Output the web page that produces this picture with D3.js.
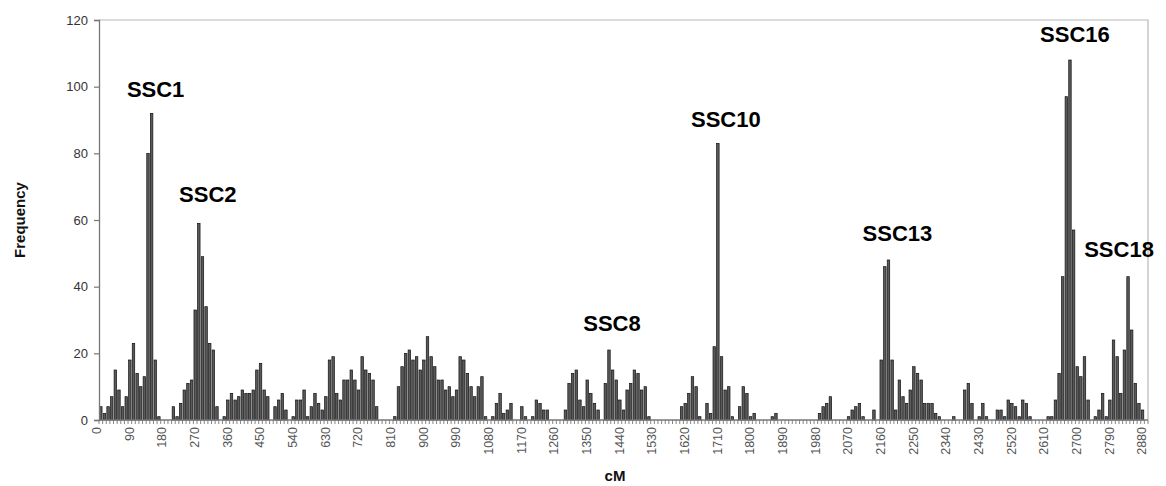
<!DOCTYPE html>
<html>
<head>
<meta charset="utf-8">
<script src="https://cdn.jsdelivr.net/npm/d3@7"></script>
<style>
  html, body { margin: 0; padding: 0; background: #fff; }
  svg { display: block; font-family: "Liberation Sans", Arial, sans-serif; }
</style>
</head>
<body>
<svg id="chart" width="1166" height="486"></svg>
<script>
// ---- data ----
const categories = d3.range(0, 2890, 10); // cM bins 0..2880
const tickLabels = [0,90,180,270,360,450,540,630,720,810,900,990,1080,1170,1260,1350,1440,1530,1620,1710,1800,1890,1980,2070,2160,2250,2340,2430,2520,2610,2700,2790,2880];
const yTicks = [0,20,40,60,80,100,120];
const frequency = [
  4,2,4,7,15,9,4,7,18,23, 14,10,13,80,92,18,1,0,0,0,
  4,1,5,9,11,12,33,59,49,34, 23,21,4,0,1,6,8,6,7,9,
  8,8,9,15,17,9,7,0,4,6, 8,3,0,1,6,6,9,1,4,8,
  5,3,7,18,19,8,6,12,12,15, 12,9,19,15,14,12,4,0,0,0,
  0,1,10,16,20,21,18,19,15,18, 25,19,16,12,12,9,10,7,9,19,
  18,14,10,7,10,13,1,0,1,5, 8,2,3,5,0,0,4,1,0,1,
  6,5,3,3,0,0,0,0,3,11, 14,15,6,4,12,8,5,3,0,11,
  21,15,12,6,3,9,11,15,14,9, 10,1,0,0,0,0,0,0,0,0,
  4,5,8,13,10,1,0,5,2,22, 83,19,9,10,1,0,4,10,8,1,
  2,0,0,0,0,1,2,0,0,0, 0,0,0,0,0,0,0,0,2,4,
  5,7,0,0,0,0,1,3,4,5, 1,0,0,3,0,18,46,48,18,3,
  12,7,5,9,16,14,12,5,5,5, 2,1,0,0,0,1,0,0,9,11,
  5,0,1,5,1,0,0,3,3,1, 6,5,4,1,6,5,1,0,0,0,
  0,1,1,6,14,43,97,108,57,16, 13,19,6,0,1,3,8,1,6,24,
  19,8,21,43,27,11,5,3,0
];
const annotations = [
  { label: "SSC1",  cM: 140 },
  { label: "SSC2",  cM: 270 },
  { label: "SSC8",  cM: 1400 },
  { label: "SSC10", cM: 1700 },
  { label: "SSC13", cM: 2170 },
  { label: "SSC16", cM: 2670 },
  { label: "SSC18", cM: 2830 }
];

// ---- layout ----
const M = { left: 99, right: 1148, top: 20, bottom: 420 };
const svg = d3.select("#chart");
svg.append("rect").attr("width", 1166).attr("height", 486).attr("fill", "#fff");

const x = d3.scaleBand().domain(categories).range([M.left, M.right]).paddingInner(0.32).paddingOuter(0.16);
const y = d3.scaleLinear().domain([0, 120]).range([M.bottom, M.top]);

// plot frame (top & right)
svg.append("path")
  .attr("d", `M${M.left},${M.top}H${M.right}V${M.bottom}`)
  .attr("fill", "none").attr("stroke", "#b8b8b8").attr("stroke-width", 1.2);

// bars
const data = categories.map((c, i) => ({ c, v: frequency[i] }));
svg.append("g").selectAll("rect").data(data).join("rect")
  .attr("x", d => x(d.c))
  .attr("width", x.bandwidth())
  .attr("y", d => y(d.v))
  .attr("height", d => y(0) - y(d.v))
  .attr("fill", "#5a5a5a")
  .attr("stroke", "#111")
  .attr("stroke-width", 0.7);

// y axis
const yAxis = d3.axisLeft(y).tickValues(yTicks).tickSize(5).tickPadding(6);
const gy = svg.append("g").attr("transform", `translate(${M.left},0)`).call(yAxis);
gy.select(".domain").attr("stroke", "#777").attr("stroke-width", 1.3);
gy.selectAll(".tick line").attr("stroke", "#777").attr("stroke-width", 1.2);
gy.selectAll(".tick text").attr("font-size", 13).attr("fill", "#333")
  .attr("font-family", "Liberation Sans, Arial, sans-serif");

// x axis (ticks at every category boundary, labels every 90 cM)
const step = x.step();
const gx = svg.append("g");
gx.append("line").attr("x1", M.left).attr("x2", M.right).attr("y1", M.bottom).attr("y2", M.bottom)
  .attr("stroke", "#777").attr("stroke-width", 1.3);
gx.selectAll("line.tk").data(d3.range(categories.length + 1)).join("line")
  .attr("class", "tk")
  .attr("x1", i => M.left + i * step).attr("x2", i => M.left + i * step)
  .attr("y1", M.bottom).attr("y2", M.bottom + 4)
  .attr("stroke", "#777").attr("stroke-width", 0.9);
gx.selectAll("text").data(tickLabels).join("text")
  .attr("transform", d => `translate(${x(d) + x.bandwidth() / 2 - 3},${M.bottom + 7}) rotate(-90)`)
  .attr("text-anchor", "end")
  .attr("dominant-baseline", "middle")
  .attr("font-size", 12.5)
  .attr("fill", "#555")
  .text(d => d);

// axis titles
svg.append("text").attr("transform", `translate(21,${(M.top + M.bottom) / 2}) rotate(-90)`)
  .attr("text-anchor", "middle").attr("dominant-baseline", "middle")
  .attr("font-size", 15).attr("font-weight", "bold").attr("fill", "#111").text("Frequency");
svg.append("text").attr("x", 615).attr("y", 481)
  .attr("text-anchor", "middle")
  .attr("font-size", 15).attr("font-weight", "bold").attr("fill", "#111").text("cM");

// peak annotations
const annStyle = {
  "SSC1":  { dx: 4,  gap: 16 },
  "SSC2":  { dx: 9,  gap: 21 },
  "SSC8":  { dx: 3,  gap: 19 },
  "SSC10": { dx: 8,  gap: 16 },
  "SSC13": { dx: 9,  gap: 19 },
  "SSC16": { dx: 5,  gap: 18 },
  "SSC18": { dx: -9, gap: 20 }
};
const valueAt = cM => frequency[categories.indexOf(cM)];
svg.append("g").selectAll("text").data(annotations).join("text")
  .attr("x", d => x(d.cM) + x.bandwidth() / 2 + annStyle[d.label].dx)
  .attr("y", d => y(valueAt(d.cM)) - annStyle[d.label].gap)
  .attr("text-anchor", "middle")
  .attr("font-size", 22).attr("font-weight", "bold").attr("fill", "#000")
  .text(d => d.label);
</script>
</body>
</html>
